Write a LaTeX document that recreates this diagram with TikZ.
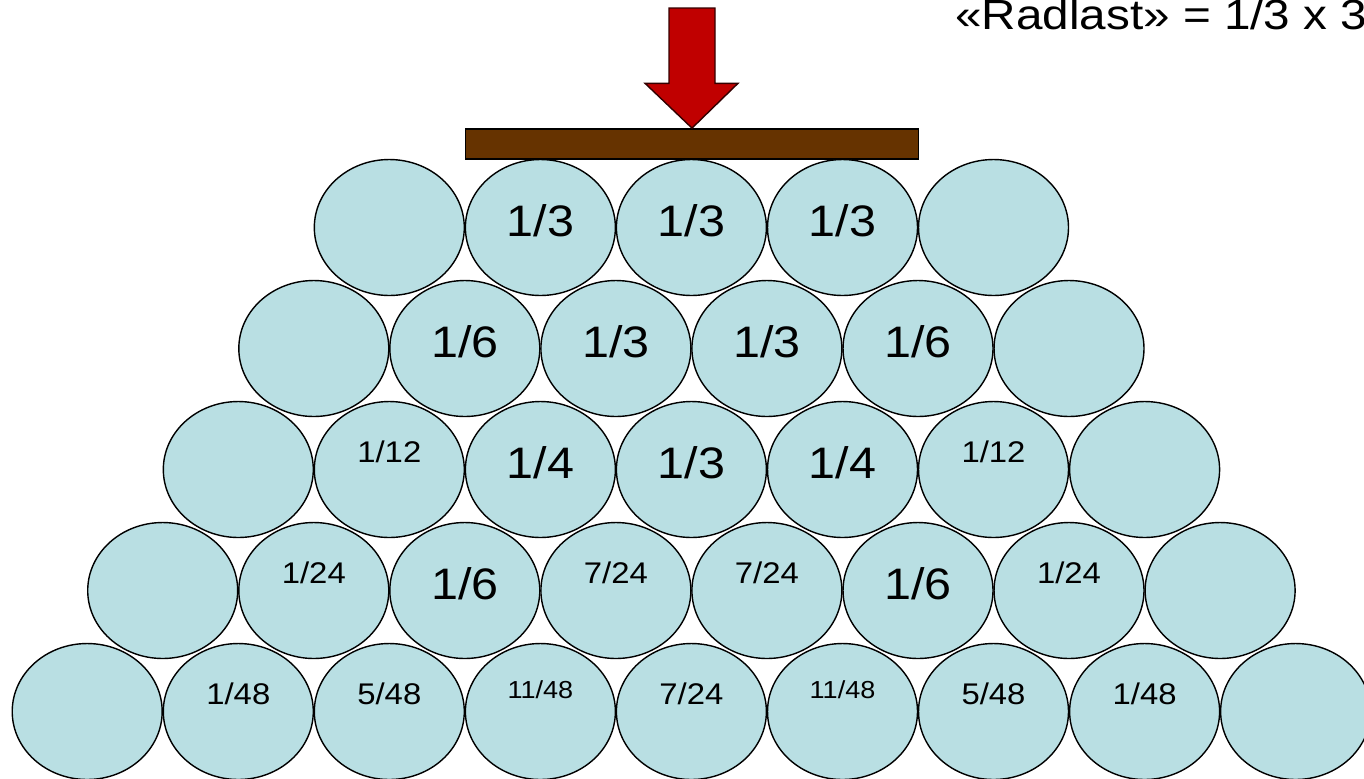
\documentclass[tikz,border=0pt]{standalone}
\usepackage{fontspec}
\setmainfont{Liberation Sans}
\usetikzlibrary{shapes.geometric}
\definecolor{rollblue}{RGB}{185,223,227}
\definecolor{beambrown}{RGB}{102,51,0}
\definecolor{loadred}{RGB}{192,0,0}
\tikzset{
  node-roll/.style={draw,ellipse,fill=rollblue,minimum width=3.0cm,minimum height=2.72cm,inner sep=0pt,line width=0.8pt},
  lbl-big/.style={anchor=base,inner sep=0pt,yshift=-0.18cm,xscale=1.1,font=\fontsize{25.1}{30}\selectfont},
  lbl-small/.style={anchor=base,inner sep=0pt,yshift=0.15cm,xscale=1.1,font=\fontsize{17}{20}\selectfont},
  lbl-tiny/.style={anchor=base,inner sep=0pt,yshift=0.26cm,xscale=1.1,font=\fontsize{14}{17}\selectfont},
  beam/.style={draw,fill=beambrown,rectangle,minimum width=9.06cm,minimum height=0.6cm,inner sep=0pt,line width=0.8pt},
  load/.style={draw=black!80!red,fill=loadred,line width=0.8pt,line join=miter},
  title/.style={anchor=base west,inner sep=0pt,xscale=1.13,font=\fontsize{24}{29}\selectfont},
}

\begin{document}
\begin{tikzpicture}[x=0.02cm,y=-0.02cm]

  \useasboundingbox (0,0) rectangle (1364,778);

  \node[title] (radlast) at (955, 29.3) {«Radlast» = 1/3 x 3};

  % last og planke
  \node[beam] (plank) at (692, 143.8) {};
  \draw[load] (669, 8) -- (715, 8) -- (715, 83.3) -- (738, 83.3)
    -- (plank.north) -- (645, 83.3) -- (669, 83.3) -- cycle;

  % RAD 1
  \node[node-roll] (r1c1) at (389.3, 227.5) {};
  \node[node-roll] (r1c2) at (540.4, 227.5) {};
  \node[node-roll] (r1c3) at (691.4, 227.5) {};
  \node[node-roll] (r1c4) at (842.5, 227.5) {};
  \node[node-roll] (r1c5) at (993.5, 227.5) {};
  \node[lbl-big] (t1c2) at (r1c2) {1/3};
  \node[lbl-big] (t1c3) at (r1c3) {1/3};
  \node[lbl-big] (t1c4) at (r1c4) {1/3};

  % RAD 2
  \node[node-roll] (r2c1) at (313.8, 348.5) {};
  \node[node-roll] (r2c2) at (464.8, 348.5) {};
  \node[node-roll] (r2c3) at (615.9, 348.5) {};
  \node[node-roll] (r2c4) at (766.9, 348.5) {};
  \node[node-roll] (r2c5) at (918.0, 348.5) {};
  \node[node-roll] (r2c6) at (1069.0, 348.5) {};
  \node[lbl-big] (t2c2) at (r2c2) {1/6};
  \node[lbl-big] (t2c3) at (r2c3) {1/3};
  \node[lbl-big] (t2c4) at (r2c4) {1/3};
  \node[lbl-big] (t2c5) at (r2c5) {1/6};

  % RAD 3
  \node[node-roll] (r3c1) at (238.3, 469.5) {};
  \node[node-roll] (r3c2) at (389.3, 469.5) {};
  \node[node-roll] (r3c3) at (540.4, 469.5) {};
  \node[node-roll] (r3c4) at (691.4, 469.5) {};
  \node[node-roll] (r3c5) at (842.5, 469.5) {};
  \node[node-roll] (r3c6) at (993.5, 469.5) {};
  \node[node-roll] (r3c7) at (1144.6, 469.5) {};
  \node[lbl-small] (t3c2) at (r3c2) {1/12};
  \node[lbl-big]   (t3c3) at (r3c3) {1/4};
  \node[lbl-big]   (t3c4) at (r3c4) {1/3};
  \node[lbl-big]   (t3c5) at (r3c5) {1/4};
  \node[lbl-small] (t3c6) at (r3c6) {1/12};

  % RAD 4
  \node[node-roll] (r4c1) at (162.7, 590.5) {};
  \node[node-roll] (r4c2) at (313.8, 590.5) {};
  \node[node-roll] (r4c3) at (464.8, 590.5) {};
  \node[node-roll] (r4c4) at (615.9, 590.5) {};
  \node[node-roll] (r4c5) at (766.9, 590.5) {};
  \node[node-roll] (r4c6) at (918.0, 590.5) {};
  \node[node-roll] (r4c7) at (1069.0, 590.5) {};
  \node[node-roll] (r4c8) at (1220.1, 590.5) {};
  \node[lbl-small] (t4c2) at (r4c2) {1/24};
  \node[lbl-big]   (t4c3) at (r4c3) {1/6};
  \node[lbl-small] (t4c4) at (r4c4) {7/24};
  \node[lbl-small] (t4c5) at (r4c5) {7/24};
  \node[lbl-big]   (t4c6) at (r4c6) {1/6};
  \node[lbl-small] (t4c7) at (r4c7) {1/24};

  % RAD 5 (nederst)
  \node[node-roll] (r5c1) at (87.2, 711.5) {};
  \node[node-roll] (r5c2) at (238.3, 711.5) {};
  \node[node-roll] (r5c3) at (389.3, 711.5) {};
  \node[node-roll] (r5c4) at (540.4, 711.5) {};
  \node[node-roll] (r5c5) at (691.4, 711.5) {};
  \node[node-roll] (r5c6) at (842.5, 711.5) {};
  \node[node-roll] (r5c7) at (993.5, 711.5) {};
  \node[node-roll] (r5c8) at (1144.6, 711.5) {};
  \node[node-roll] (r5c9) at (1295.6, 711.5) {};
  \node[lbl-small] (t5c2) at (r5c2) {1/48};
  \node[lbl-small] (t5c3) at (r5c3) {5/48};
  \node[lbl-tiny]  (t5c4) at (r5c4) {11/48};
  \node[lbl-small] (t5c5) at (r5c5) {7/24};
  \node[lbl-tiny]  (t5c6) at (r5c6) {11/48};
  \node[lbl-small] (t5c7) at (r5c7) {5/48};
  \node[lbl-small] (t5c8) at (r5c8) {1/48};

\end{tikzpicture}
\end{document}
